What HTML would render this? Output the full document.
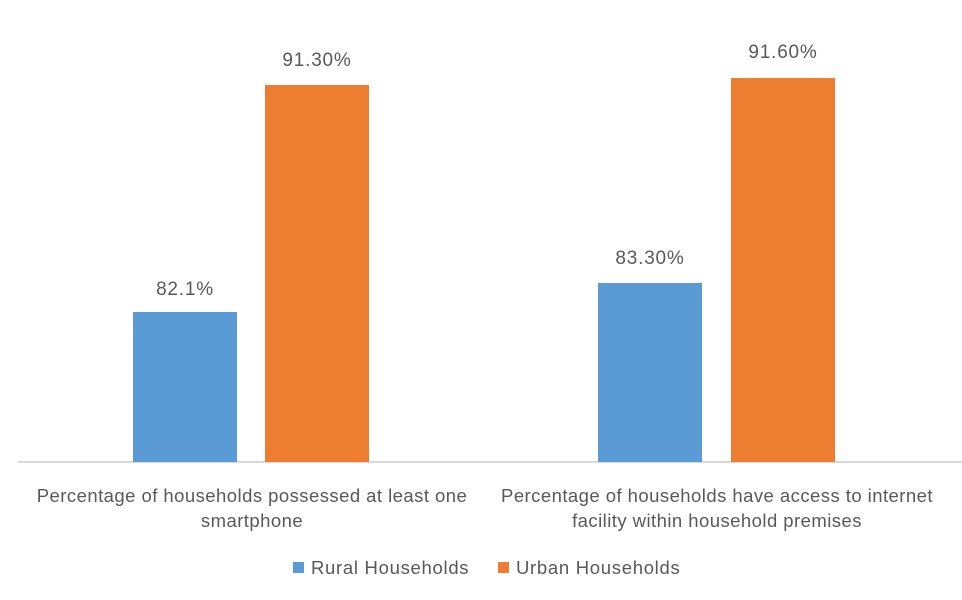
<!DOCTYPE html>
<html><head><style>
body{margin:0;width:962px;height:600px;background:#fff;position:relative;overflow:hidden;font-family:"Liberation Sans",sans-serif;color:#595959}
.b{position:absolute}
.t{position:absolute;font-size:19px;letter-spacing:0.8px;text-align:center;white-space:nowrap;transform:translateX(-50%)}
.c{position:absolute;font-size:18.5px;letter-spacing:0.45px;text-align:center;line-height:25px;transform:translateX(-50%);white-space:nowrap}
.l{position:absolute;font-size:18.5px;letter-spacing:0.7px;white-space:nowrap}
</style></head><body>
<div class="b" style="left:18px;top:461px;width:944px;height:2px;background:#d9d9d9"></div>
<div class="b" style="left:133px;top:312px;width:104px;height:150px;background:#5b9bd5"></div>
<div class="b" style="left:265px;top:85px;width:104px;height:377px;background:#ed7d31"></div>
<div class="b" style="left:598px;top:283px;width:104px;height:179px;background:#5b9bd5"></div>
<div class="b" style="left:731px;top:78px;width:104px;height:384px;background:#ed7d31"></div>
<div class="t" style="left:185px;top:279px">82.1%</div>
<div class="t" style="left:317px;top:50px">91.30%</div>
<div class="t" style="left:650px;top:248px">83.30%</div>
<div class="t" style="left:783px;top:42px">91.60%</div>
<div class="c" style="left:252px;top:483px">Percentage of households possessed at least one<br>smartphone</div>
<div class="c" style="left:717px;top:483px">Percentage of households have access to internet<br>facility within household premises</div>
<div class="b" style="left:293px;top:562px;width:11px;height:11px;background:#5b9bd5"></div>
<div class="l" style="left:311px;top:557px">Rural Households</div>
<div class="b" style="left:498px;top:562px;width:11px;height:11px;background:#ed7d31"></div>
<div class="l" style="left:516px;top:557px">Urban Households</div>
</body></html>
